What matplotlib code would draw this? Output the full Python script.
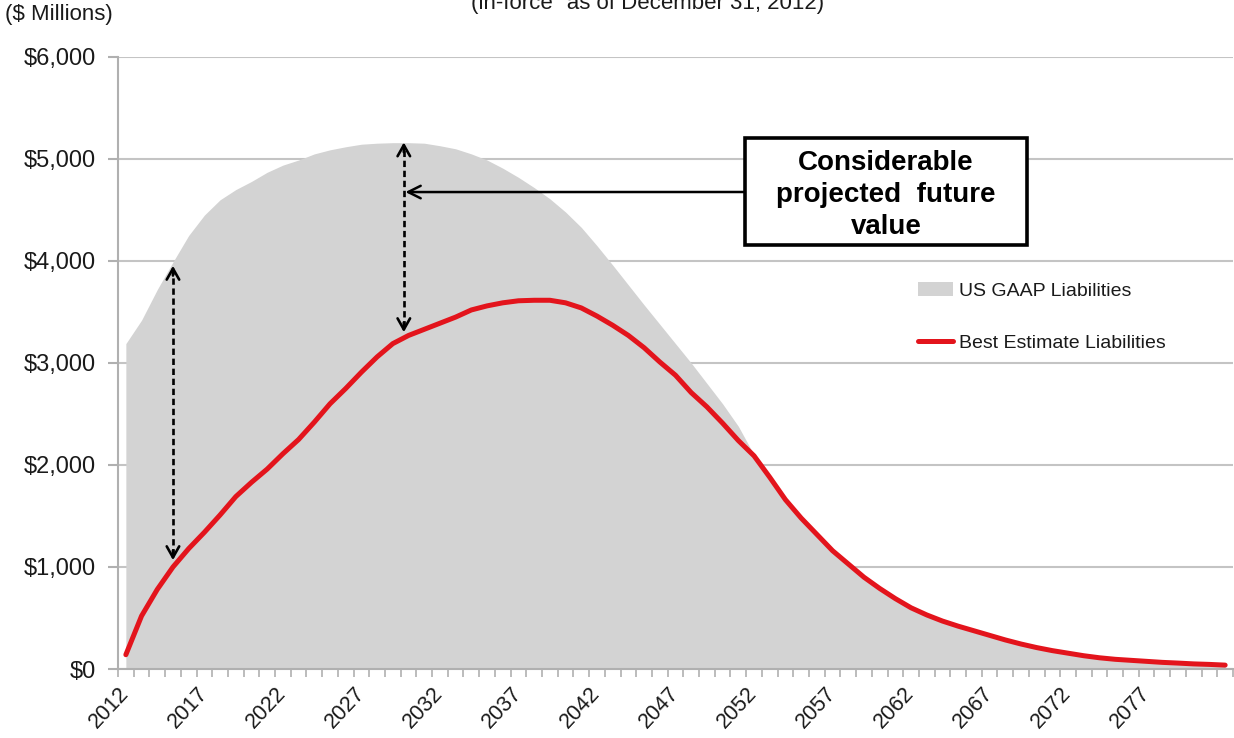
import matplotlib
matplotlib.use('Agg')
import matplotlib.pyplot as plt
from matplotlib.patches import Rectangle
from matplotlib.ticker import FixedLocator, FuncFormatter

plt.rcParams['font.family'] = ['Liberation Sans', 'DejaVu Sans']

# projection years and liabilities ($ millions)
years = list(range(2012, 2083))
gaap = [3190, 3420, 3720, 3990, 4250, 4450, 4600, 4700, 4780, 4870,
        4940, 4990, 5050, 5090, 5120, 5145, 5155, 5160, 5160, 5155,
        5130, 5100, 5050, 4990, 4910, 4820, 4720, 4610, 4480, 4330,
        4150, 3960, 3765, 3570, 3380, 3190, 3000, 2800, 2600, 2380,
        2100, 1860, 1640, 1460, 1300, 1140, 1010, 880, 770, 670,
        585, 515, 455, 405, 360, 315, 270, 232, 198, 170,
        145, 122, 104, 90, 80, 70, 61, 54, 47, 42, 35]
best = [140, 520, 780, 1000, 1180, 1340, 1510, 1690, 1830, 1960,
        2110, 2250, 2420, 2600, 2750, 2910, 3060, 3190, 3270, 3330,
        3390, 3450, 3520, 3560, 3590, 3610, 3615, 3615, 3590, 3540,
        3460, 3370, 3270, 3150, 3010, 2880, 2710, 2570, 2410, 2240,
        2090, 1880, 1660, 1480, 1320, 1160, 1030, 900, 790, 690,
        600, 530, 470, 420, 375, 330, 285, 245, 210, 180,
        155, 130, 110, 95, 85, 75, 65, 58, 50, 45, 38]
label_years = list(range(2012, 2082, 5))
y_ticks = [0, 1000, 2000, 3000, 4000, 5000, 6000]

# annotation arrows (year, $m)
gap1 = (2015.0, 3980, 1040)
gap2 = (2029.7, 5190, 3275)
pointer_y = 4676

W, H = 1234, 738
fig = plt.figure(figsize=(W / 100, H / 100), dpi=100)
ax = fig.add_axes([118 / W, 1 - 669 / H, 1115 / W, 612 / H])

ax.fill_between(years, gaap, color='#d3d3d3', lw=0, label='US GAAP Liabilities', zorder=1)
ax.plot(years, best, color='#e3141c', lw=3.6, solid_capstyle='round',
        label='Best Estimate Liabilities', zorder=3)

ax.set_xlim(years[0] - 0.5, years[-1] + 0.5)
ax.set_ylim(0, 6000)
ax.set_yticks(y_ticks)
ax.yaxis.set_major_formatter(FuncFormatter(lambda v, p: '${:,.0f}'.format(v)))
ax.set_xticks(label_years)
ax.xaxis.set_minor_locator(FixedLocator([y - 0.5 for y in years] + [years[-1] + 0.5]))

ax.grid(axis='y', color='#c4c4c4', lw=1.5)
ax.set_axisbelow(True)
for s in ['top', 'right']:
    ax.spines[s].set_visible(False)
for s in ['left', 'bottom']:
    ax.spines[s].set_color('#b0b0b0')
    ax.spines[s].set_linewidth(1.5)

ax.tick_params(axis='y', length=7, width=1.5, color='#b0b0b0', labelsize=17,
               labelcolor='#1a1a1a', pad=9)
ax.tick_params(axis='x', which='major', length=0, labelsize=15.5, labelcolor='#1a1a1a', pad=15)
ax.tick_params(axis='x', which='minor', length=6, width=1.2, color='#b0b0b0')
for lbl in ax.get_xticklabels():
    lbl.set_rotation(47)
    lbl.set_ha('right')
    lbl.set_va('center')
    lbl.set_rotation_mode('anchor')

# dashed double arrows showing the gap
head = dict(arrowstyle='->,head_length=0.8,head_width=0.45', lw=1.9, color='black')
for x, top, bottom in [gap1, gap2]:
    ax.plot([x, x], [bottom + 80, top - 80], color='black', lw=1.9, ls=(0, (2.4, 1.4)), zorder=4)
    ax.annotate('', xy=(x, top), xytext=(x, top - 150), arrowprops=head, zorder=5)
    ax.annotate('', xy=(x, bottom), xytext=(x, bottom + 150), arrowprops=head, zorder=5)

# pointer from the box to the upper gap
ax.annotate('', xy=(gap2[0] + 0.1, pointer_y), xytext=(745 / W, 1 - 192 / H),
            textcoords='figure fraction',
            arrowprops=dict(arrowstyle='->,head_length=0.9,head_width=0.45', lw=1.8,
                            color='black', shrinkA=0, shrinkB=0))

fig.patches.append(Rectangle((745 / W, 1 - 245 / H), 282 / W, 107 / H, transform=fig.transFigure,
                             fc='white', ec='black', lw=2.6, zorder=6))
fig.text(886 / W, 1 - 195 / H, 'Considerable\nprojected  future\nvalue', ha='center', va='center',
         ma='center', fontsize=20, fontweight='bold', linespacing=1.32, zorder=7)

leg = ax.legend(loc='upper left', bbox_to_anchor=((918 - 118) / 1115, (669 - 282) / 612),
                frameon=False, fontsize=14, borderpad=0, borderaxespad=0,
                handlelength=1.8, handletextpad=0.3, labelspacing=1.8)
for t in leg.get_texts():
    t.set_color('#1a1a1a')

fig.text(5 / W, 1 - 4 / H, '($ Millions)', ha='left', va='top', fontsize=16, color='#1a1a1a')
fig.text(648 / W, 1 - 9 / H, '(in-force" as of December 31, 2012)', ha='center', va='baseline',
         fontsize=16, color='#1a1a1a')

fig.savefig('out.png', dpi=100)
